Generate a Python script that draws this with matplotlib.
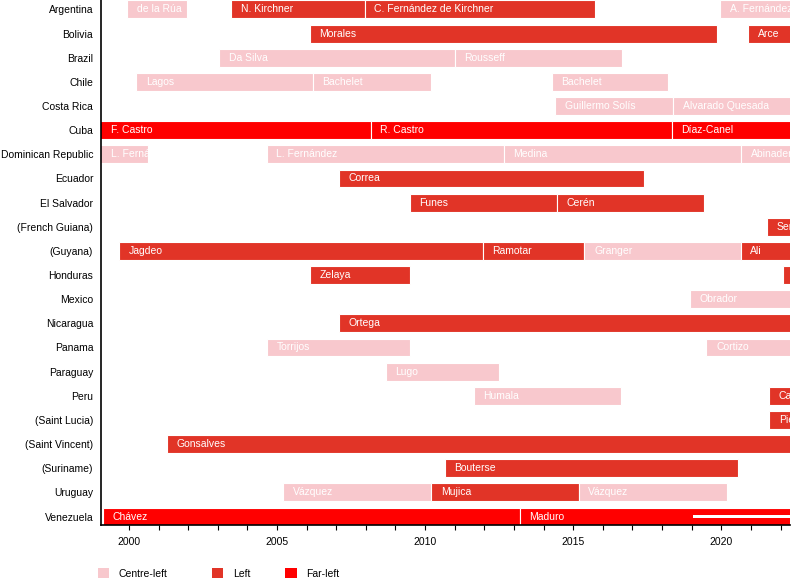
import matplotlib
matplotlib.use("Agg")
import matplotlib.pyplot as plt
from matplotlib.patches import Patch
from matplotlib.ticker import MultipleLocator

plt.rcParams['font.family'] = ['Liberation Sans', 'DejaVu Sans']

# rows, top to bottom
countries = ["Argentina", "Bolivia", "Brazil", "Chile", "Costa Rica", "Cuba",
             "Dominican Republic", "Ecuador", "El Salvador", "(French Guiana)",
             "(Guyana)", "Honduras", "Mexico", "Nicaragua", "Panama", "Paraguay",
             "Peru", "(Saint Lucia)", "(Saint Vincent)", "(Suriname)", "Uruguay",
             "Venezuela"]

PRESENT = 2022.4

# (country, leader, start, end, leaning)
terms = [
    ("Argentina", "de la Rúa", 1999.95, 2001.97, "Centre-left"),
    ("Argentina", "N. Kirchner", 2003.44, 2007.96, "Left"),
    ("Argentina", "C. Fernández de Kirchner", 2007.96, 2015.75, "Left"),
    ("Argentina", "A. Fernández", 2019.95, PRESENT, "Centre-left"),
    ("Bolivia", "Morales", 2006.1, 2019.87, "Left"),
    ("Bolivia", "Arce", 2020.9, PRESENT, "Left"),
    ("Brazil", "Da Silva", 2003.04, 2011.0, "Centre-left"),
    ("Brazil", "Rousseff", 2011.0, 2016.66, "Centre-left"),
    ("Chile", "Lagos", 2000.24, 2006.2, "Centre-left"),
    ("Chile", "Bachelet", 2006.2, 2010.2, "Centre-left"),
    ("Chile", "Bachelet", 2014.27, 2018.2, "Centre-left"),
    ("Costa Rica", "Guillermo Solís", 2014.4, 2018.38, "Centre-left"),
    ("Costa Rica", "Alvarado Quesada", 2018.38, PRESENT, "Centre-left"),
    ("Cuba", "F. Castro", 1959.0, 2008.16, "Far-left"),
    ("Cuba", "R. Castro", 2008.16, 2018.33, "Far-left"),
    ("Cuba", "Díaz-Canel", 2018.33, PRESENT, "Far-left"),
    ("Dominican Republic", "L. Fernández", 1996.6, 2000.64, "Centre-left"),
    ("Dominican Republic", "L. Fernández", 2004.65, 2012.65, "Centre-left"),
    ("Dominican Republic", "Medina", 2012.65, 2020.67, "Centre-left"),
    ("Dominican Republic", "Abinader", 2020.67, PRESENT, "Centre-left"),
    ("Ecuador", "Correa", 2007.08, 2017.4, "Left"),
    ("El Salvador", "Funes", 2009.48, 2014.44, "Left"),
    ("El Salvador", "Cerén", 2014.44, 2019.43, "Left"),
    ("(French Guiana)", "Serville", 2021.55, PRESENT, "Left"),
    ("(Guyana)", "Jagdeo", 1999.66, 2011.94, "Left"),
    ("(Guyana)", "Ramotar", 2011.94, 2015.38, "Left"),
    ("(Guyana)", "Granger", 2015.38, 2020.65, "Centre-left"),
    ("(Guyana)", "Ali", 2020.65, PRESENT, "Left"),
    ("Honduras", "Zelaya", 2006.1, 2009.5, "Left"),
    ("Honduras", "Castro", 2022.08, PRESENT, "Left"),
    ("Mexico", "Obrador", 2018.95, PRESENT, "Centre-left"),
    ("Nicaragua", "Ortega", 2007.08, PRESENT, "Left"),
    ("Panama", "Torrijos", 2004.67, 2009.5, "Centre-left"),
    ("Panama", "Cortizo", 2019.5, PRESENT, "Centre-left"),
    ("Paraguay", "Lugo", 2008.67, 2012.48, "Centre-left"),
    ("Peru", "Humala", 2011.64, 2016.6, "Centre-left"),
    ("Peru", "Castillo", 2021.62, PRESENT, "Left"),
    ("(Saint Lucia)", "Pierre", 2021.62, PRESENT, "Left"),
    ("(Saint Vincent)", "Gonsalves", 2001.28, PRESENT, "Left"),
    ("(Suriname)", "Bouterse", 2010.66, 2020.57, "Left"),
    ("Uruguay", "Vázquez", 2005.2, 2010.2, "Centre-left"),
    ("Uruguay", "Mujica", 2010.2, 2015.18, "Left"),
    ("Uruguay", "Vázquez", 2015.18, 2020.2, "Centre-left"),
    ("Venezuela", "Chávez", 1999.12, 2013.19, "Far-left"),
    ("Venezuela", "Maduro", 2013.19, PRESENT, "Far-left"),
]

# disputed presidency stripe
disputed = [("Venezuela", 2019.03, PRESENT)]

leanings = ["Centre-left", "Left", "Far-left"]
colors = {"Centre-left": "#f8c8cd", "Left": "#e13427", "Far-left": "#ff0000"}

x_min, x_max = 1999.05, 2022.32

fig = plt.figure(figsize=(8, 5.85), dpi=100)
ax = fig.add_axes([0.126, 0.1026, 0.8615, 0.8974])

for country, leader, start, end, kind in terms:
    y = countries.index(country)
    bar = ax.barh(y, end - start, left=start, height=0.74, color=colors[kind],
                  edgecolor="white", linewidth=0.8)[0]
    tx = max(start, x_min)
    t = ax.annotate(leader, (tx, y), xytext=(7, 0), textcoords="offset points",
                    va="center", ha="left", color="white", fontsize=7.5)
    t.set_clip_path(bar)

for country, start, end in disputed:
    y = countries.index(country)
    ax.barh(y, end - start, left=start, height=0.16, color="white", linewidth=0)

ax.set_yticks(range(len(countries)))
ax.set_yticklabels(countries, fontsize=7.5)
ax.tick_params(axis="y", length=0, pad=5.5)
ax.set_ylim(len(countries) - 1 + 0.35, -0.39)
ax.set_xlim(x_min, x_max)
ax.xaxis.set_major_locator(MultipleLocator(5))
ax.xaxis.set_minor_locator(MultipleLocator(1))
ax.tick_params(axis="x", which="both", length=3.5, width=0.8, labelsize=7.5, pad=5)
for s in ["top", "right"]:
    ax.spines[s].set_visible(False)
ax.spines["left"].set_linewidth(1.2)
ax.spines["bottom"].set_linewidth(1.2)

# legend: one entry per box so each sits where the reference has it
legend_x = [0.1225, 0.265, 0.3565]
for k, lx in zip(leanings, legend_x):
    fig.legend(handles=[Patch(facecolor=colors[k], edgecolor="none", label=k)],
               loc="center left", bbox_to_anchor=(lx, 0.0197), frameon=False,
               fontsize=7.5, handlelength=1.1, handleheight=1.1,
               handletextpad=0.9, borderpad=0, borderaxespad=0)

fig.savefig("out.png", dpi=100)
